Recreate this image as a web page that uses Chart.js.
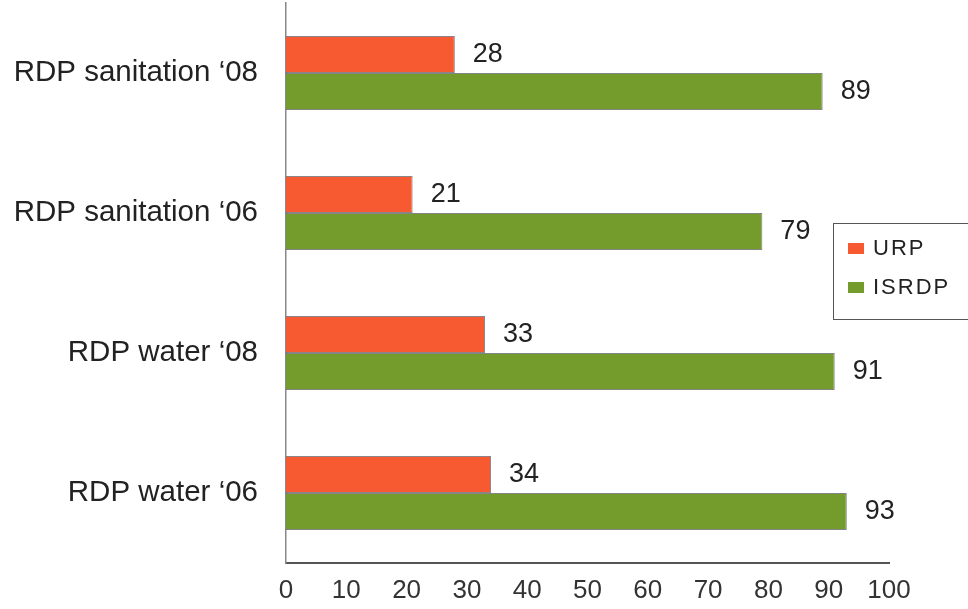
<!DOCTYPE html>
<html>
<head>
<meta charset="utf-8">
<script src="https://cdn.jsdelivr.net/npm/chart.js@4/dist/chart.umd.min.js"></script>
<style>
  html, body { margin: 0; padding: 0; background: #fff; }
  #wrap { position: relative; width: 968px; height: 609px; overflow: hidden; }
  #legend {
    position: absolute; left: 833px; top: 223px; width: 150px; height: 97px;
    border: 1.5px solid #555; box-sizing: border-box;
    font-family: "Liberation Sans", Arial, sans-serif; font-size: 22px; letter-spacing: 2px; color: #222;
  }
  #legend .item { position: absolute; left: 14px; display: flex; align-items: center; }
  #legend .swatch { width: 16px; height: 11px; margin-right: 9px; }
</style>
</head>
<body>
<div id="wrap">
  <canvas id="chart" width="968" height="609"></canvas>
  <div id="legend"></div>
</div>
<script>
// Categories listed top to bottom
const categories = ['RDP sanitation \u201808', 'RDP sanitation \u201806', 'RDP water \u201808', 'RDP water \u201806'];
const seriesNames = ['URP', 'ISRDP'];
const urpValues = [28, 21, 33, 34];
const isrdpValues = [89, 79, 91, 93];
const xTicks = [0, 10, 20, 30, 40, 50, 60, 70, 80, 90, 100];

const RED = '#f75a30';
const GREEN = '#749c2c';
const FONT = '"Liberation Sans", Arial, sans-serif';

// Writes the value just past the end of each bar
const valueLabels = {
  id: 'valueLabels',
  afterDatasetsDraw(chart) {
    const ctx = chart.ctx;
    ctx.save();
    ctx.font = '27px ' + FONT;
    ctx.fillStyle = '#222';
    ctx.textBaseline = 'middle';
    ctx.textAlign = 'left';
    chart.data.datasets.forEach((ds, i) => {
      chart.getDatasetMeta(i).data.forEach((bar, j) => {
        ctx.fillText(String(ds.data[j]), bar.x + 18, bar.y);
      });
    });
    ctx.restore();
  }
};

const chart = new Chart(document.getElementById('chart'), {
  type: 'bar',
  data: {
    labels: categories,
    datasets: [
      { label: seriesNames[0], data: urpValues, backgroundColor: RED, borderColor: 'rgba(90,80,90,0.7)', borderWidth: 1 },
      { label: seriesNames[1], data: isrdpValues, backgroundColor: GREEN, borderColor: 'rgba(80,80,80,0.7)', borderWidth: 1 }
    ]
  },
  options: {
    indexAxis: 'y',
    responsive: false,
    animation: false,
    layout: { padding: { left: 12, right: 79, top: 3, bottom: 4 } },
    datasets: { bar: { barPercentage: 1, categoryPercentage: 0.53 } },
    scales: {
      x: {
        min: 0,
        max: 100,
        afterBuildTicks: (scale) => { scale.ticks = xTicks.map((v) => ({ value: v })); },
        afterFit: (scale) => { scale.height = 42; scale.paddingLeft = 0; },
        grid: { display: false, drawTicks: false },
        border: { display: true, color: '#555', width: 2 },
        ticks: { color: '#333', font: { family: FONT, size: 26 }, padding: 12 }
      },
      y: {
        grid: { display: false, drawTicks: false },
        border: { display: true, color: '#888', width: 1.5 },
        ticks: { color: '#222', font: { family: FONT, size: 29.5 }, padding: 28 },
        // fixed label column; padding only pushes the axis sideways, not the plot top/bottom
        afterFit: (scale) => { scale.width = 274; scale.paddingTop = 0; scale.paddingBottom = 0; }
      }
    },
    plugins: {
      legend: { display: false },
      tooltip: { enabled: false }
    }
  },
  plugins: [valueLabels]
});

// Boxed legend on the right, built from the datasets
const legendEl = document.getElementById('legend');
chart.data.datasets.forEach((ds, i) => {
  const item = document.createElement('div');
  item.className = 'item';
  item.style.top = (i === 0 ? 11 : 50) + 'px';
  item.innerHTML = '<span class="swatch" style="background:' + ds.backgroundColor + '"></span>' + ds.label;
  legendEl.appendChild(item);
});
</script>
</body>
</html>
